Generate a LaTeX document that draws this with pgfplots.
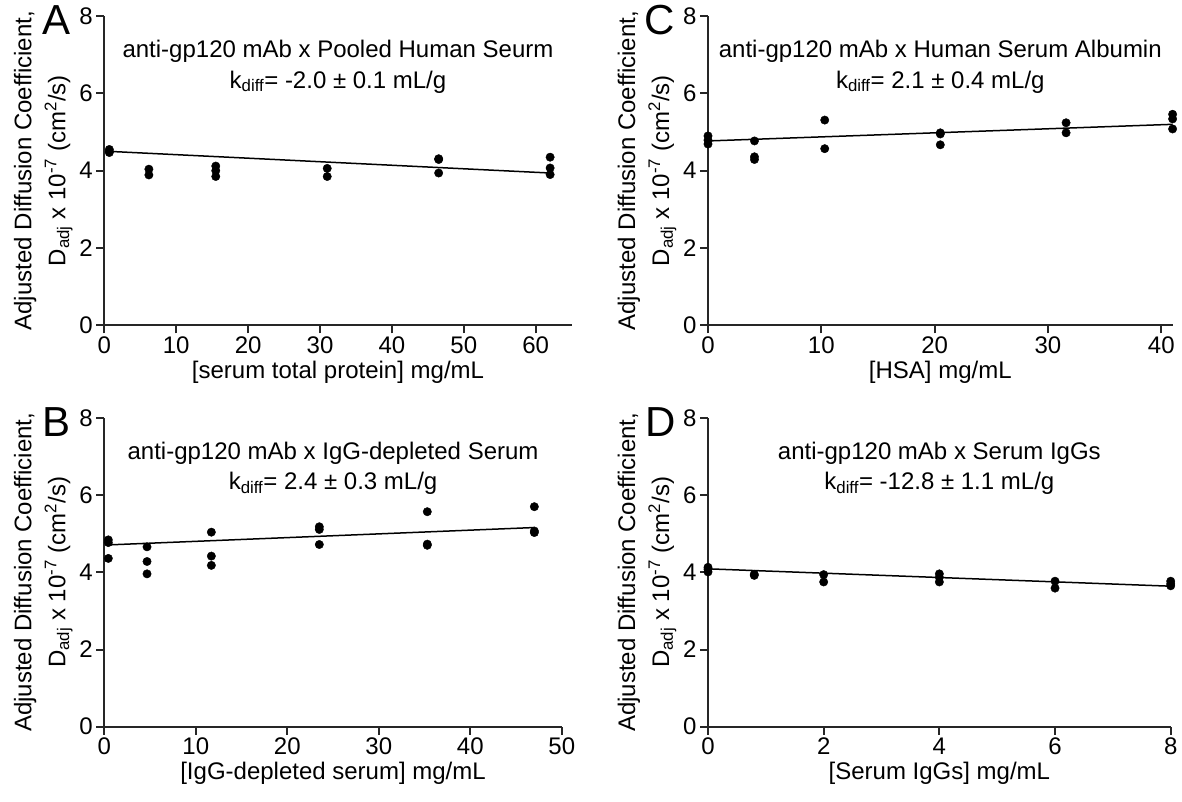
\documentclass[border=0pt]{standalone}
\usepackage{fontspec}
\setmainfont{Liberation Sans}
\usepackage{pgfplots}
\pgfplotsset{compat=1.18}
\newcommand{\fs}{\fontsize{24}{30}\selectfont}
\tikzset{letter/.style={font=\fontsize{42}{42}\selectfont}}
\pgfplotsset{
  prism/.style={
    scale only axis,
    axis lines=left,
    axis line style={-, line width=2pt, color=black!85},
    tick align=outside,
    major tick length=8pt,
    tick style={line width=2pt, color=black!85},
    ymin=0, ymax=8, ytick={0,2,4,6,8},
    xmin=0,
    tick label style={font=\fs},
    label style={font=\fs},
    ylabel={Adjusted Diffusion Coefficient,\\D\textsubscript{adj} x 10\textsuperscript{-7} (cm\textsuperscript{2}/s)},
    ylabel style={align=center, font=\fontsize{24}{34}\selectfont},
    clip=false,
    /pgf/number format/assume math mode=true,
  },
  dots/.style={only marks, mark=*, mark size=4.2pt, mark options={fill=black, draw=black}},
  fit/.style={no marks, line width=1.5pt, black},
}
\begin{document}
\begin{tikzpicture}
\useasboundingbox (0,0) rectangle (1182pt,801pt);
% Panel A
\begin{axis}[prism, at={(104.3pt,475.7pt)}, anchor=south west, width=467.4pt, height=309.2pt,
  xmax=65, xtick={0,10,20,30,40,50,60}, xlabel={[serum total protein] mg/mL}]
\addplot[dots] coordinates {(0.7,4.55) (0.7,4.50) (0.7,4.47)
 (6.2,4.04) (6.2,3.89) (15.5,4.12) (15.5,4.00) (15.5,3.85)
 (31.0,4.06) (31.0,3.85) (46.5,4.31) (46.5,4.29) (46.5,3.94)
 (62.0,4.35) (62.0,4.07) (62.0,3.90)};
\addplot[fit] coordinates {(0.7,4.50) (62,3.94)};
\node[font=\fs, anchor=base] at (rel axis cs:0.5,0.8645) {anti-gp120 mAb x Pooled Human Seurm};
\node[font=\fs, anchor=base] at (rel axis cs:0.5,0.767) {k\textsubscript{diff}= -2.0 ± 0.1 mL/g};
\node[letter] at (rel axis cs:-0.102,0.987) {A};
\end{axis}
% Panel C
\begin{axis}[prism, at={(708pt,475.7pt)}, anchor=south west, width=464.6pt, height=309.2pt,
  xmax=41, xtick={0,10,20,30,40}, xlabel={[HSA] mg/mL}]
\addplot[dots] coordinates {(0,4.90) (0,4.79) (0,4.69)
 (4.1,4.77) (4.1,4.36) (4.1,4.29) (10.3,5.31) (10.3,4.57)
 (20.5,4.98) (20.5,4.95) (20.5,4.67) (31.6,5.24) (31.6,4.98)
 (41.0,5.46) (41.0,5.34) (41.0,5.08)};
\addplot[fit] coordinates {(0,4.77) (41,5.20)};
\node[font=\fs, anchor=base] at (rel axis cs:0.5,0.8645) {anti-gp120 mAb x Human Serum Albumin};
\node[font=\fs, anchor=base] at (rel axis cs:0.5,0.767) {k\textsubscript{diff}= 2.1 ± 0.4 mL/g};
\node[letter] at (rel axis cs:-0.103,0.987) {C};
\end{axis}
% Panel B
\begin{axis}[prism, at={(104.3pt,74.3pt)}, anchor=south west, width=457.5pt, height=308.8pt,
  xmax=50, xtick={0,10,20,30,40,50}, xlabel={[IgG-depleted serum] mg/mL}]
\addplot[dots] coordinates {(0.44,4.84) (0.44,4.77) (0.44,4.36)
 (4.67,4.66) (4.67,4.28) (4.67,3.96) (11.7,5.04) (11.7,4.42) (11.7,4.18)
 (23.5,5.18) (23.5,5.11) (23.5,4.72) (35.3,5.57) (35.3,4.73) (35.3,4.70)
 (47.0,5.70) (47.0,5.07) (47.0,5.03)};
\addplot[fit] coordinates {(0.44,4.71) (47,5.16)};
\node[font=\fs, anchor=base] at (rel axis cs:0.5,0.8645) {anti-gp120 mAb x IgG-depleted Serum};
\node[font=\fs, anchor=base] at (rel axis cs:0.5,0.767) {k\textsubscript{diff}= 2.4 ± 0.3 mL/g};
\node[letter] at (rel axis cs:-0.104,0.987) {B};
\end{axis}
% Panel D
\begin{axis}[prism, at={(708pt,74.3pt)}, anchor=south west, width=462.7pt, height=308.8pt,
  xmax=8, xtick={0,2,4,6,8}, xlabel={[Serum IgGs] mg/mL}]
\addplot[dots] coordinates {(0,4.13) (0,4.08) (0,4.01)
 (0.8,3.95) (0.8,3.92) (2,3.94) (2,3.75)
 (4,3.96) (4,3.87) (4,3.75) (6,3.77) (6,3.59)
 (8,3.77) (8,3.70) (8,3.65)};
\addplot[fit] coordinates {(0,4.09) (8,3.64)};
\node[font=\fs, anchor=base] at (rel axis cs:0.5,0.8645) {anti-gp120 mAb x Serum IgGs};
\node[font=\fs, anchor=base] at (rel axis cs:0.5,0.767) {k\textsubscript{diff}= -12.8 ± 1.1 mL/g};
\node[letter] at (rel axis cs:-0.103,0.987) {D};
\end{axis}
\end{tikzpicture}
\end{document}
